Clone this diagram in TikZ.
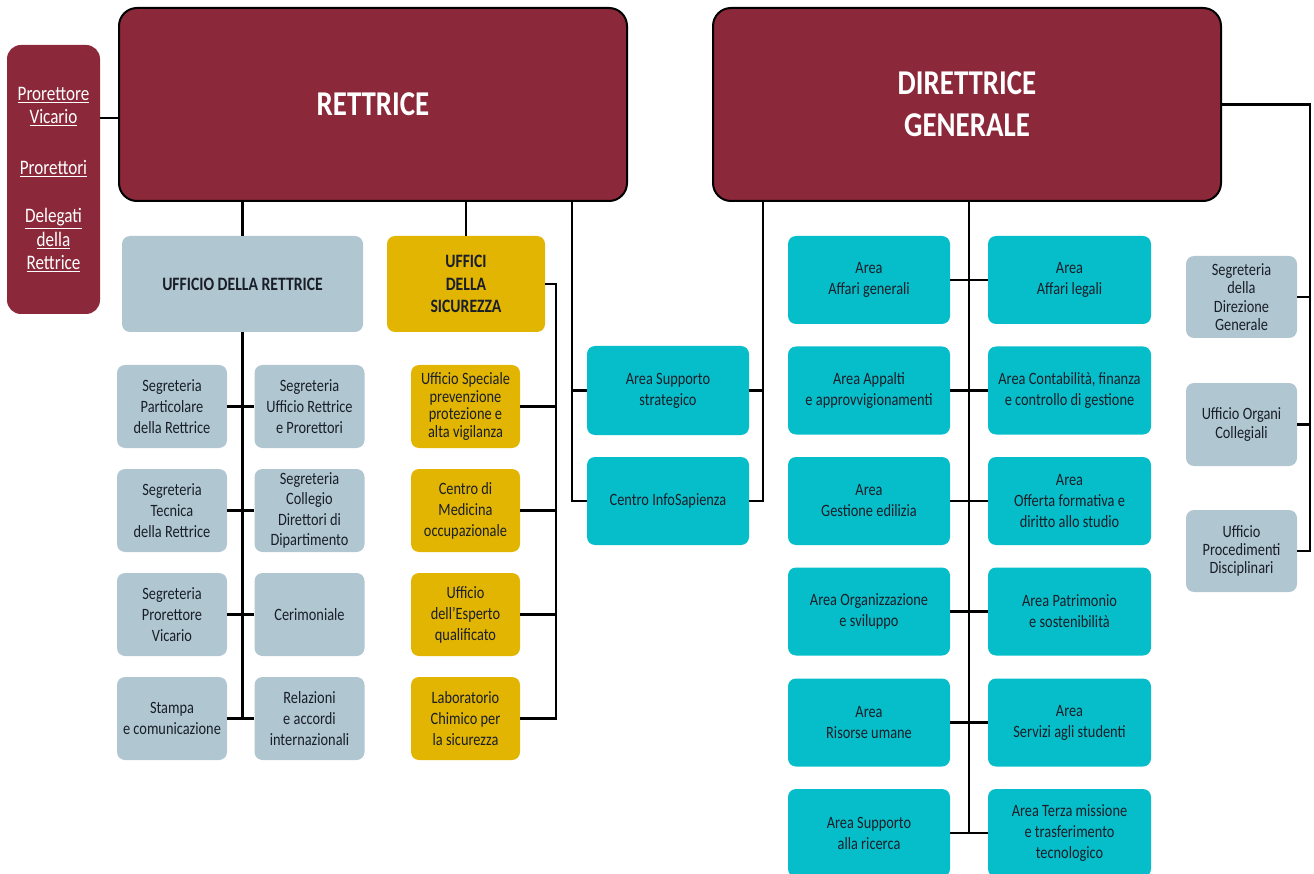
\documentclass[tikz,border=0pt]{standalone}
\usepackage{fontspec}
\setmainfont{Carlito}[FakeStretch=0.83]
\usepackage{xcolor}
\usetikzlibrary{positioning}
\definecolor{maroon}{RGB}{139,41,58}
\definecolor{ublue}{RGB}{176,199,210}
\definecolor{ugold}{RGB}{226,181,3}
\definecolor{uteal}{RGB}{6,190,202}
\definecolor{ink}{RGB}{25,30,40}
\tikzset{unit/.style={rounded corners=8pt, inner sep=0pt, align=center, text=ink,
font=\fontsize{17.3}{21}\selectfont},
grey/.style={unit, fill=ublue, minimum width=110pt, minimum height=83pt},
gold/.style={unit, fill=ugold, minimum width=109pt, minimum height=83pt, font=\fontsize{17.3}{21}\selectfont},
area/.style={unit, fill=uteal, minimum width=162pt, minimum height=88pt},
staff/.style={unit, fill=ublue, minimum width=111pt, minimum height=82pt, font=\fontsize{17.3}{18.3}\selectfont},
head/.style={draw=black, line width=2pt, fill=maroon, rounded corners=18pt, minimum width=508pt,
minimum height=193pt, text=white, align=center, font=\bfseries\fontsize{34.8}{42}\selectfont},
link/.style={line width=2.2pt}}

\begin{document}
\begin{tikzpicture}[x=1pt, y=-1pt]
\useasboundingbox (0,0) rectangle (1314,874);
\node[head] (rett) at (373,104.5) {RETTRICE};
\node[head] (dir) at (967,104.5) {DIRETTRICE\\GENERALE};
\node[unit, fill=maroon, text=white, rounded corners=14pt, minimum width=93pt, minimum height=269pt,
font=\fontsize{20.6}{23.5}\selectfont] (vic) at (53.5,179.5)
{\underline{Prorettore}\\\underline{Vicario}\\[27pt]\underline{Prorettori}\\[25pt]\underline{Delegati}\\\underline{della}\\\underline{Rettrice}};
% ufficio della rettrice
\node[unit, fill=ublue, minimum width=241pt, minimum height=96pt, font=\bfseries\fontsize{18.9}{22.5}\selectfont]
(uffr) at (242.5,284) {UFFICIO DELLA RETTRICE};
\node[grey] (spr) at (172,406.5) {Segreteria\\Particolare\\della Rettrice};
\node[grey] (sur) at (309.5,406.5) {Segreteria\\Ufficio Rettrice\\e Prorettori};
\node[grey] (str) at (172,510.5) {Segreteria\\Tecnica\\della Rettrice};
\node[grey, font=\fontsize{17.3}{20.3}\selectfont] (scd) at (309.5,510.5) {Segreteria\\Collegio\\Direttori di\\Dipartimento};
\node[grey] (spv) at (172,614.5) {Segreteria\\Prorettore\\Vicario};
\node[grey] (cer) at (309.5,614.5) {Cerimoniale};
\node[grey] (stc) at (172,718.5) {Stampa\\e comunicazione};
\node[grey] (rai) at (309.5,718.5) {Relazioni\\e accordi\\internazionali};
% sicurezza
\node[unit, fill=ugold, minimum width=158pt, minimum height=96pt, font=\bfseries\fontsize{18.9}{22.5}\selectfont]
(uffs) at (466,284) {UFFICI\\DELLA\\SICUREZZA};
\node[gold, font=\fontsize{17.3}{17.7}\selectfont] (usp) at (465.5,406.5) {Ufficio Speciale\\prevenzione\\protezione e\\alta vigilanza};
\node[gold] (cmo) at (465.5,510.5) {Centro di\\Medicina\\occupazionale};
\node[gold] (ueq) at (465.5,614.5) {Ufficio\\dell’Esperto\\qualificato};
\node[gold] (lcs) at (465.5,718.5) {Laboratorio\\Chimico per\\la sicurezza};
% aree comuni
\node[area, minimum height=89pt] (ass) at (668,390.5) {Area Supporto\\strategico};
\node[area] (cis) at (668,501) {Centro InfoSapienza};
% aree della direzione
\node[area] (aag) at (869,280) {Area\\Affari generali};
\node[area, minimum width=163pt] (aal) at (1069.5,280) {Area\\Affari legali};
\node[area] (aap) at (869,390.5) {Area Appalti\\e approvvigionamenti};
\node[area, minimum width=163pt] (acf) at (1069.5,390.5) {Area Contabilità, finanza\\e controllo di gestione};
\node[area] (age) at (869,501) {Area\\Gestione edilizia};
\node[area, minimum width=163pt] (aof) at (1069.5,501) {Area\\Offerta formativa e\\diritto allo studio};
\node[area] (aos) at (869,611.5) {Area Organizzazione\\e sviluppo};
\node[area, minimum width=163pt] (aps) at (1069.5,611.5) {Area Patrimonio\\e sostenibilità};
\node[area] (aru) at (869,722.5) {Area\\Risorse umane};
\node[area, minimum width=163pt] (asv) at (1069.5,722.5) {Area\\Servizi agli studenti};
\node[area] (asr) at (869,833) {Area Supporto\\alla ricerca};
\node[area, minimum width=163pt] (atm) at (1069.5,833) {Area Terza missione\\e trasferimento\\tecnologico};
% staff
\node[staff] (sdg) at (1241.5,297) {Segreteria\\della\\Direzione\\Generale};
\node[staff, minimum height=83pt, font=\fontsize{17.3}{19}\selectfont] (uoc) at (1241.5,424.5) {Ufficio Organi\\Collegiali};
\node[staff] (upd) at (1241.5,551) {Ufficio\\Procedimenti\\Disciplinari};

% connectors
\coordinate (vk) at (100,118);
\draw[link] (vic.east |- vk) -- (rett.west |- vk);
\draw[link] (rett.south -| uffr.north) -- (uffr.north);
\draw[link] (rett.south -| uffs.north) -- (uffs.north);
\draw[link] (uffr.south) -- (uffr.south |- stc.east);
\foreach \a/\b in {spr/sur, str/scd, spv/cer, stc/rai}
  \draw[link] (\a.east) -- (\b.west);
\coordinate (ys) at (556,284);
\draw[link] (uffs.east) -- (ys) |- (lcs.east);
\foreach \n in {usp,cmo,ueq}
  \draw[link] (\n.east) -- (\n.east -| ys);
\coordinate (ml) at (572,202);
\draw[link] (rett.south -| ml) |- (cis.west);
\draw[link] (ml |- ass.west) -- (ass.west);
\coordinate (mr) at (763,202);
\draw[link] (dir.south -| mr) |- (cis.east);
\draw[link] (mr |- ass.east) -- (ass.east);
\coordinate (dt) at (969,202);
\draw[link] (dir.south -| dt) -- (dt |- atm.west);
\foreach \a/\b in {aag/aal, aap/acf, age/aof, aos/aps, aru/asv, asr/atm}
  \draw[link] (\a.east) -- (\b.west);
\coordinate (rk) at (1310,0);
\draw[link] (dir.east) -| (rk |- upd.east) -- (upd.east);
\foreach \n in {sdg,uoc}
  \draw[link] (\n.east) -- (\n.east -| rk);
\end{tikzpicture}
\end{document}
